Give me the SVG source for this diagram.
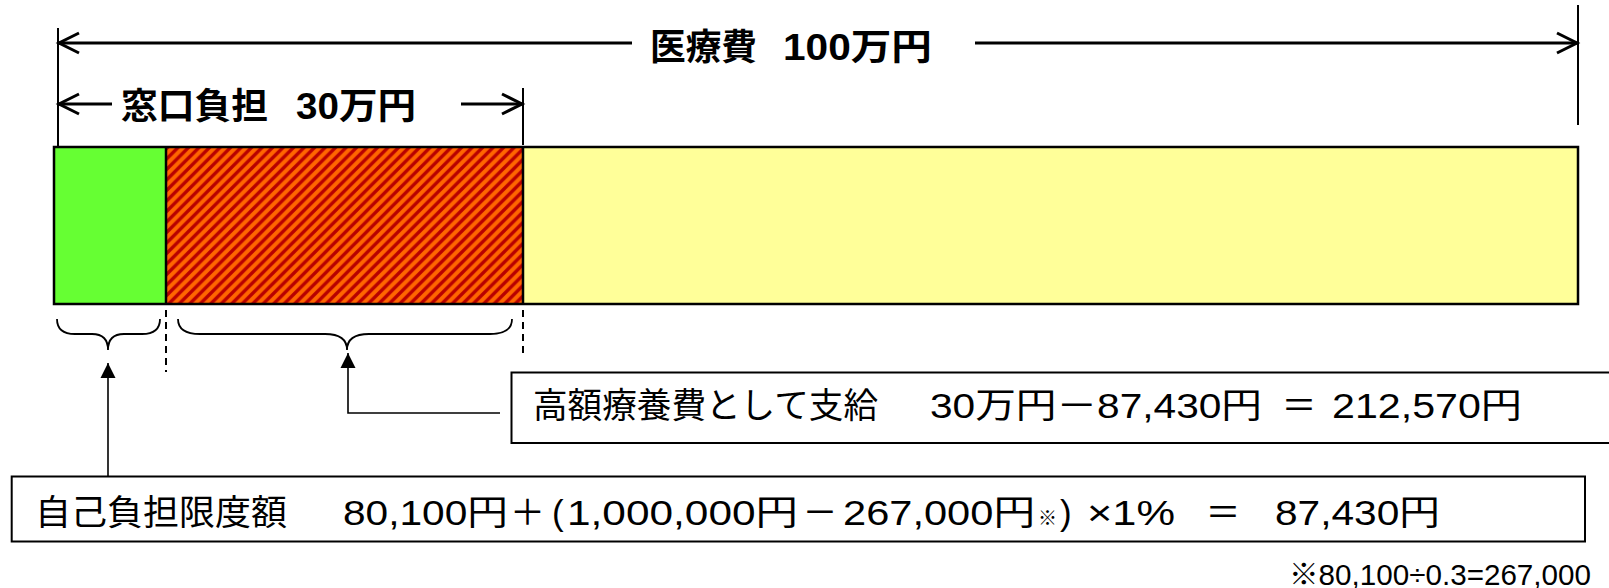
<svg xmlns="http://www.w3.org/2000/svg" width="1609" height="588" viewBox="0 0 1609 588">
<style>
.t{font-family:"Liberation Sans","Noto Sans CJK JP",sans-serif;fill:#000}
.b{font-weight:bold;font-size:36px}
.r{font-size:35px}
.ln{stroke:#000;fill:none}
.dim{stroke-width:3}
.ext{stroke-width:2}
.dash{stroke-width:2;stroke-dasharray:7 5}
.br{stroke-width:1.8}
.con{stroke-width:1.6}
.box{fill:#fff;stroke:#000;stroke-width:2}
</style>
<defs>
<marker id="open" markerUnits="userSpaceOnUse" viewBox="-24 -14 28 28" refX="0" refY="0" markerWidth="28" markerHeight="28" orient="auto-start-reverse">
<path d="M-20,-10 L0,0 L-20,10" fill="none" stroke="#000" stroke-width="3" stroke-linejoin="miter"/>
</marker>
<marker id="tri" markerUnits="userSpaceOnUse" viewBox="-16 -9 18 18" refX="0" refY="0" markerWidth="18" markerHeight="18" orient="auto">
<path d="M-15,-7.5 L0,0 L-15,7.5 Z" fill="#000"/>
</marker>
<pattern id="hatch" patternUnits="userSpaceOnUse" width="10.5" height="10.5">
<rect width="10.5" height="10.5" fill="#FF6600"/>
<path d="M-2.625,2.625 L2.625,-2.625 M0,10.5 L10.5,0 M7.875,13.125 L13.125,7.875" stroke="#B80000" stroke-width="3.4"/>
</pattern>
</defs>

<g id="bar">
<rect x="54" y="147" width="112" height="157" fill="#66FF33"/>
<rect x="166" y="147" width="357" height="157" fill="url(#hatch)"/>
<rect x="523" y="147" width="1055" height="157" fill="#FFFF99"/>
<rect x="54" y="147" width="1524" height="157" fill="none" stroke="#000" stroke-width="2.5"/>
<line x1="166" y1="147" x2="166" y2="304" stroke="#000" stroke-width="2.5"/>
<line x1="523" y1="147" x2="523" y2="304" stroke="#000" stroke-width="2.5"/>
</g>

<g id="connectors">
<line class="ln ext" x1="58" y1="28" x2="58" y2="147"/>
<line class="ln ext" x1="523" y1="88" x2="523" y2="145"/>
<line class="ln ext" x1="1578" y1="5" x2="1578" y2="125"/>
<line class="ln dim" x1="59" y1="43" x2="632" y2="43" marker-start="url(#open)"/>
<line class="ln dim" x1="975" y1="43" x2="1577" y2="43" marker-end="url(#open)"/>
<line class="ln dim" x1="59" y1="104" x2="112" y2="104" marker-start="url(#open)"/>
<line class="ln dim" x1="461" y1="104" x2="522" y2="104" marker-end="url(#open)"/>
<line class="ln dash" x1="166" y1="310" x2="166" y2="372"/>
<line class="ln dash" x1="523" y1="310" x2="523" y2="355"/>
<path class="ln br" d="M57,319 Q57,334 75,334 L92,334 Q108,334 108,350 Q108,334 124,334 L142,334 Q160,334 160,319"/>
<path class="ln br" d="M178,319 Q178,334 200,334 L325,334 Q347,334 347,350 Q347,334 369,334 L490,334 Q512,334 512,319"/>
<line class="ln con" x1="108" y1="476" x2="108" y2="363" marker-end="url(#tri)"/>
<polyline class="ln con" points="500,413 348,413 348,353" marker-end="url(#tri)"/>
</g>

<g id="label-total">
<text class="t b" x="650" y="60" textLength="107" lengthAdjust="spacingAndGlyphs">医療費</text>
<text class="t b" x="783" y="60" textLength="149" lengthAdjust="spacingAndGlyphs">100万円</text>
</g>

<g id="label-window">
<text class="t b" x="121" y="119" textLength="147" lengthAdjust="spacingAndGlyphs">窓口負担</text>
<text class="t b" x="296" y="119" textLength="120" lengthAdjust="spacingAndGlyphs">30万円</text>
</g>

<g id="box-benefit">
<rect class="box" x="511.5" y="372.5" width="1110" height="70.5"/>
<text class="t r" x="533" y="418" textLength="345" lengthAdjust="spacingAndGlyphs">高額療養費として支給</text>
<text class="t r" x="930" y="418" textLength="332" lengthAdjust="spacingAndGlyphs">30万円－87,430円</text>
<text class="t r" x="1299" y="418" text-anchor="middle">＝</text>
<text class="t r" x="1332" y="418" textLength="190" lengthAdjust="spacingAndGlyphs">212,570円</text>
</g>

<g id="box-limit">
<rect class="box" x="11.7" y="476.5" width="1573.3" height="65"/>
<text class="t r" x="35" y="525" textLength="252" lengthAdjust="spacingAndGlyphs">自己負担限度額</text>
<text class="t r" x="343" y="525" textLength="165" lengthAdjust="spacingAndGlyphs">80,100円</text>
<text class="t r" x="510" y="525">＋</text>
<text class="t r" x="552" y="525">(</text>
<text class="t r" x="567" y="525" textLength="231" lengthAdjust="spacingAndGlyphs">1,000,000円</text>
<text class="t r" x="820" y="525" text-anchor="middle">－</text>
<text class="t r" x="843" y="525" textLength="192" lengthAdjust="spacingAndGlyphs">267,000円</text>
<text class="t" x="1038" y="525" font-size="19">※</text>
<text class="t r" x="1060" y="525">)</text>
<text class="t r" x="1087" y="525" textLength="88" lengthAdjust="spacingAndGlyphs">×1%</text>
<text class="t r" x="1223" y="525" text-anchor="middle">＝</text>
<text class="t r" x="1275" y="525" textLength="165" lengthAdjust="spacingAndGlyphs">87,430円</text>
</g>

<g id="footnote">
<text class="t" x="1289" y="585" font-size="29" textLength="302" lengthAdjust="spacingAndGlyphs">※80,100÷0.3=267,000</text>
</g>
</svg>
